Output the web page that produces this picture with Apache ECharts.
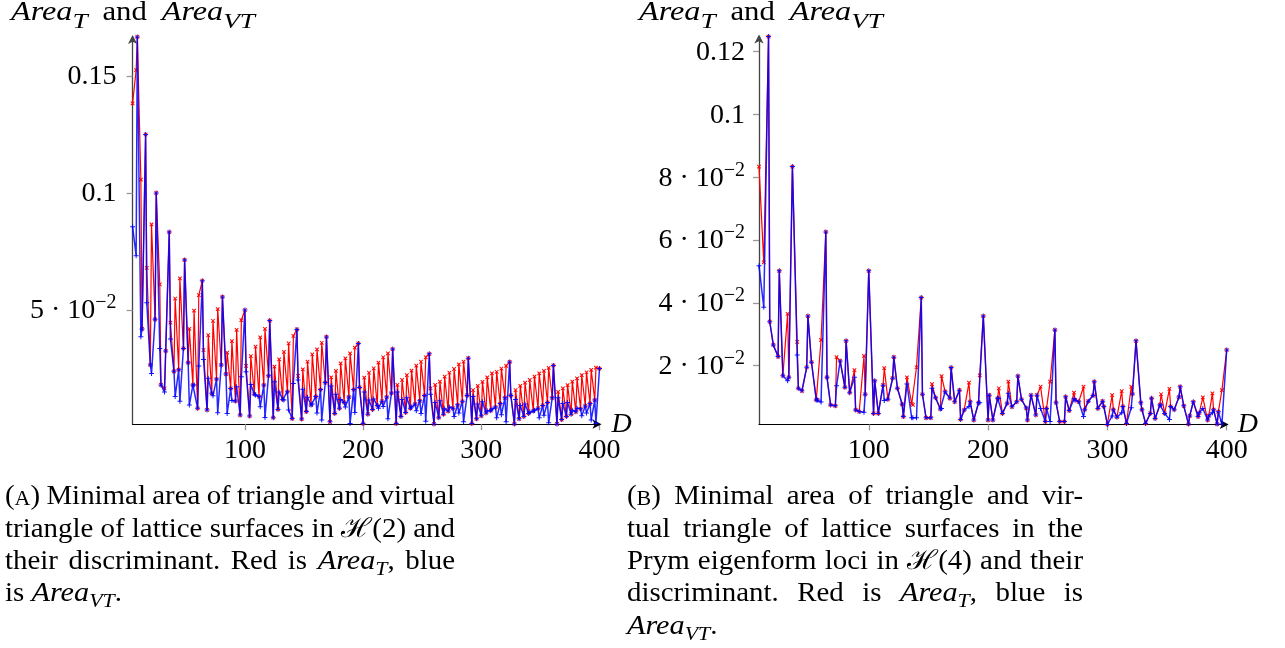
<!DOCTYPE html>
<html><head><meta charset="utf-8">
<script src="https://cdn.jsdelivr.net/npm/echarts@6/dist/echarts.min.js"></script>
<style>html,body{margin:0;padding:0;background:#fff}#c{width:1285px;height:648px}</style>
</head><body><div id="c"></div>
<script>
// ---------- Panel (A): H(2) ----------
const dA = [
 5, 8, 9,
 12, 13, 16,
 17, 20, 21, 24, 25,
 28, 29, 32, 33, 36,
 37, 40, 41, 44, 45, 48, 49,
 52, 53, 56, 57, 60, 61, 64,
 65, 68, 69, 72, 73, 76, 77, 80, 81,
 84, 85, 88, 89, 92, 93, 96, 97, 100,
 101, 104, 105, 108, 109, 112, 113, 116, 117, 120, 121,
 124, 125, 128, 129, 132, 133, 136, 137, 140, 141, 144,
 145, 148, 149, 152, 153, 156, 157, 160, 161, 164, 165, 168, 169,
 172, 173, 176, 177, 180, 181, 184, 185, 188, 189, 192, 193, 196,
 197, 200, 201, 204, 205, 208, 209, 212, 213, 216, 217, 220, 221, 224, 225,
 228, 229, 232, 233, 236, 237, 240, 241, 244, 245, 248, 249, 252, 253, 256,
 257, 260, 261, 264, 265, 268, 269, 272, 273, 276, 277, 280, 281, 284, 285, 288, 289,
 292, 293, 296, 297, 300, 301, 304, 305, 308, 309, 312, 313, 316, 317, 320, 321, 324,
 325, 328, 329, 332, 333, 336, 337, 340, 341, 344, 345, 348, 349, 352, 353, 356, 357, 360, 361,
 364, 365, 368, 369, 372, 373, 376, 377, 380, 381, 384, 385, 388, 389, 392, 393, 396, 397, 400
];
const areaTA = [
 .1383, .1525, .1667,
 .1057, .0419, .1250,
 .0680, .0265, .0866, .0460, .1000,
 .0609, .0180, .0165, .0325, .0833,
 .0446, .0238, .0549, .0245, .0635, .0336, .0714,
 .0275, .0419, .0179, .0497, .0080, .0564, .0625,
 .0329, .0073, .0393, .0144, .0454, .0205, .0504, .0265, .0556,
 .0226, .0318, .0165, .0367, .0111, .0415, .0051, .0457, .0500,
 .0261, .0047, .0303, .0140, .0343, .0130, .0383, .0179, .0419, .0219, .0455,
 .0040, .0258, .0075, .0289, .0118, .0321, .0151, .0357, .0036, .0389, .0417,
 .0218, .0034, .0246, .0066, .0279, .0094, .0310, .0130, .0332, .0160, .0360, .0190, .0385,
 .0022, .0212, .0058, .0240, .0080, .0272, .0105, .0293, .0128, .0315, .0160, .0339, .0357,
 .0169, .0015, .0211, .0055, .0232, .0075, .0251, .0092, .0275, .0110, .0298, .0128, .0315, .0145, .0333,
 .0015, .0180, .0045, .0201, .0062, .0222, .0080, .0241, .0098, .0262, .0112, .0279, .0135, .0298, .0313,
 .0165, .0013, .0180, .0040, .0194, .0055, .0215, .0068, .0232, .0080, .0248, .0095, .0268, .0110, .0279, .0135, .0294,
 .0015, .0158, .0035, .0176, .0048, .0193, .0060, .0212, .0070, .0229, .0085, .0236, .0100, .0250, .0125, .0261, .0278,
 .0135, .0013, .0158, .0035, .0176, .0045, .0190, .0058, .0201, .0068, .0215, .0080, .0229, .0092, .0240, .0105, .0253, .0125, .0263,
 .0013, .0150, .0032, .0165, .0045, .0179, .0055, .0194, .0065, .0208, .0078, .0222, .0090, .0234, .0100, .0244, .0115, .0254, .0250
];
const areaVTA = [
 .0856, .0732, .1667,
 .0386, .0419, .1250,
 .0531, .0265, .0229, .0460, .1000,
 .0336, .0180, .0150, .0325, .0833,
 .0376, .0238, .0130, .0245, .0110, .0336, .0714,
 .0275, .0094, .0179, .0179, .0080, .0261, .0625,
 .0289, .0073, .0208, .0144, .0134, .0205, .0061, .0265, .0556,
 .0226, .0058, .0165, .0113, .0111, .0172, .0051, .0215, .0500,
 .0236, .0047, .0182, .0140, .0137, .0130, .0087, .0179, .0041, .0219, .0455,
 .0040, .0193, .0075, .0150, .0118, .0115, .0151, .0073, .0036, .0186, .0417,
 .0201, .0034, .0161, .0066, .0127, .0094, .0098, .0130, .0060, .0160, .0030, .0190, .0385,
 .0022, .0175, .0058, .0140, .0080, .0118, .0105, .0085, .0128, .0015, .0160, .0062, .0357,
 .0169, .0015, .0150, .0055, .0115, .0075, .0120, .0092, .0080, .0110, .0088, .0128, .0035, .0145, .0333,
 .0015, .0150, .0045, .0118, .0062, .0125, .0080, .0085, .0098, .0070, .0112, .0058, .0135, .0025, .0313,
 .0140, .0013, .0105, .0040, .0112, .0055, .0078, .0068, .0085, .0080, .0045, .0095, .0060, .0110, .0022, .0135, .0294,
 .0015, .0130, .0035, .0098, .0048, .0108, .0060, .0070, .0070, .0078, .0085, .0040, .0100, .0052, .0125, .0022, .0278,
 .0135, .0013, .0118, .0035, .0092, .0045, .0098, .0058, .0065, .0068, .0072, .0080, .0040, .0092, .0050, .0105, .0018, .0125, .0263,
 .0013, .0125, .0032, .0100, .0045, .0105, .0055, .0072, .0065, .0080, .0078, .0048, .0090, .0060, .0100, .0030, .0115, .0015, .0250
];

// ---------- Panel (B): Prym eigenform loci in H(4) ----------
const dB = [
 8, 12, 16, 17, 20, 24, 25, 28, 32, 33, 36,
 40, 41, 44, 48, 49, 52, 56, 57, 60, 64,
 65, 68, 72, 73, 76, 80, 81, 84, 88, 89, 92, 96, 97, 100,
 104, 105, 108, 112, 113, 116, 120, 121, 124, 128, 129, 132, 136, 137, 140, 144,
 145, 148, 152, 153, 156, 160, 161, 164, 168, 169,
 172, 176, 177, 180, 184, 185, 188, 192, 193, 196,
 200, 201, 204, 208, 209, 212, 216, 217, 220, 224, 225,
 228, 232, 233, 236, 240, 241, 244, 248, 249, 252, 256,
 257, 260, 264, 265, 268, 272, 273, 276, 280, 281, 284, 288, 289,
 292, 296, 297, 300, 304, 305, 308, 312, 313, 316, 320, 321, 324,
 328, 329, 332, 336, 337, 340, 344, 345, 348, 352, 353, 356, 360, 361,
 364, 368, 369, 372, 376, 377, 380, 384, 385, 388, 389, 392, 393, 396, 400
];
const areaTB = [
 .0834, .0529, .1248, .0340, .0266, .0229, .0502, .0168, .0365, .0163, .0834,
 .0276, .0128, .0120, .0195, .0358, .0211, .0091, .0091, .0282, .0626,
 .0163, .0075, .0072, .0227, .0215, .0131, .0279, .0114, .0186, .0059, .0054, .0231, .0109, .0502,
 .0048, .0152, .0048, .0138, .0192, .0093, .0160, .0227, .0128, .0077, .0038, .0163, .0078, .0075, .0195, .0417,
 .0109, .0034, .0034, .0141, .0098, .0062, .0167, .0117, .0096, .0194,
 .0085, .0122, .0029, .0059, .0146, .0085, .0027, .0082, .0169, .0358,
 .0027, .0106, .0027, .0096, .0128, .0048, .0080, .0149, .0069, .0085, .0167,
 .0093, .0065, .0027, .0106, .0043, .0106, .0133, .0022, .0064, .0149, .0314,
 .0082, .0022, .0022, .0101, .0057, .0114, .0090, .0085, .0133, .0060, .0087, .0105, .0149,
 .0064, .0087, .0070, .0013, .0106, .0060, .0036, .0119, .0070, .0016, .0133, .0110, .0279,
 .0082, .0060, .0016, .0048, .0096, .0032, .0075, .0109, .0048, .0126, .0070, .0060, .0100, .0133,
 .0072, .0014, .0040, .0085, .0038, .0050, .0099, .0027, .0040, .0112, .0060, .0014, .0053, .0122, .0250
];
const areaVTB = [
 .0518, .0386, .1248, .0340, .0266, .0229, .0502, .0168, .0152, .0163, .0834,
 .0234, .0128, .0120, .0195, .0358, .0211, .0091, .0091, .0084, .0626,
 .0163, .0075, .0072, .0136, .0215, .0131, .0279, .0114, .0163, .0059, .0054, .0052, .0109, .0502,
 .0048, .0152, .0048, .0138, .0089, .0093, .0160, .0227, .0128, .0077, .0038, .0142, .0034, .0034, .0034, .0417,
 .0109, .0034, .0034, .0128, .0098, .0062, .0064, .0117, .0096, .0194,
 .0085, .0122, .0029, .0059, .0070, .0085, .0027, .0082, .0082, .0358,
 .0027, .0106, .0027, .0096, .0096, .0048, .0080, .0112, .0069, .0085, .0167,
 .0093, .0065, .0027, .0106, .0043, .0106, .0064, .0022, .0064, .0022, .0314,
 .0082, .0022, .0022, .0101, .0057, .0095, .0090, .0085, .0038, .0060, .0087, .0105, .0149,
 .0064, .0087, .0070, .0013, .0040, .0060, .0036, .0050, .0070, .0016, .0066, .0110, .0279,
 .0082, .0060, .0016, .0048, .0096, .0032, .0075, .0075, .0048, .0029, .0070, .0060, .0100, .0133,
 .0072, .0014, .0040, .0085, .0038, .0050, .0064, .0027, .0040, .0050, .0060, .0014, .0053, .0014, .0250
];

// ---------- Ticks ----------
const xTicks = [100, 200, 300, 400];
const xTickLabels = ['100', '200', '300', '400'];
const yTicksA = [0.05, 0.1, 0.15];
const yTickTextA = ['5 · 10', '0.1', '0.15'];
const yTickExpA = ['\u22122', '', ''];
const yTicksB = [0.02, 0.04, 0.06, 0.08, 0.1, 0.12];
const yTickTextB = ['2 · 10', '4 · 10', '6 · 10', '8 · 10', '0.1', '0.12'];
const yTickExpB = ['\u22122', '\u22122', '\u22122', '\u22122', '', ''];

// ---------- Text ----------
const titleText = '{it:Area}{sub:T} and {it:Area}{sub:VT}';
const captionA = [
 '({sc:A}) Minimal area of triangle and virtual',
 'triangle of lattice surfaces in \u210B(2) and',
 'their discriminant. Red is {it:Area}{sub:T}, blue',
 'is {it:Area}{sub:VT}.'
];
const captionB = [
 '({sc:B}) Minimal area of triangle and vir-',
 'tual triangle of lattice surfaces in the',
 'Prym eigenform loci in \u210B(4) and their',
 'discriminant. Red is {it:Area}{sub:T}, blue is',
 '{it:Area}{sub:VT}.'
];

const FF = '"Liberation Serif","DejaVu Serif",serif';
const capFonts = {
  rm: {size: 27, style: 'normal', dy: 0, sx: 1.07},
  it: {size: 27, style: 'italic', dy: 0, sx: 1.12},
  sub: {size: 19, style: 'italic', dy: 8, sx: 1.15},
  sc: {size: 20, style: 'normal', dy: 2.4, sx: 1.1}
};
const titleFonts = {
  rm: {size: 28, style: 'normal', dy: 0, sx: 1.1},
  it: {size: 28, style: 'italic', dy: 0, sx: 1.15},
  sub: {size: 21, style: 'italic', dy: 9, sx: 1.3},
  sc: {size: 20, style: 'normal', dy: 2.4, sx: 1}
};
const mctx = document.createElement('canvas').getContext('2d');
function fontStr(F, k) { const f = F[k]; return f.style + ' ' + f.size + 'px ' + FF; }
function measure(F, t, k) { mctx.font = fontStr(F, k); return mctx.measureText(t).width * F[k].sx; }
function parseWord(w) {
  const segs = []; const re = /\{(\w+):([^}]*)\}|([^{]+)/g; let m;
  while ((m = re.exec(w))) { if (m[1]) segs.push([m[2], m[1]]); else segs.push([m[3], 'rm']); }
  return segs;
}
function layoutLine(F, str, x0, y, width, justify, out) {
  const words = str.split(/ +/).map(parseWord);
  const ww = words.map(s => s.reduce((a, [t, k]) => a + measure(F, t, k), 0));
  let gap = measure(F, ' ', 'rm');
  if (justify && words.length > 1) gap = (width - ww.reduce((a, b) => a + b, 0)) / (words.length - 1);
  let x = x0;
  words.forEach(segs => {
    segs.forEach(([t, k]) => {
      out.push({type: 'text', x: x, y: y + F[k].dy, scaleX: F[k].sx, silent: true,
        style: {text: t, font: fontStr(F, k), fill: '#000', textAlign: 'left', textVerticalAlign: 'middle', align: 'left', verticalAlign: 'middle'}});
      x += measure(F, t, k);
    });
    x += gap;
  });
}
const graphics = [];
layoutLine(titleFonts, titleText, 11, 13, 244, true, graphics);
layoutLine(titleFonts, titleText, 639, 13, 244, true, graphics);
const capY = [497, 530, 562, 594, 627];
captionA.forEach((l, i) => layoutLine(capFonts, l, 5, capY[i], 450, i < captionA.length - 1, graphics));
captionB.forEach((l, i) => layoutLine(capFonts, l, 627, capY[i], 456, i < captionB.length - 1, graphics));

function yFmt(ticks, texts, exps) {
  return v => {
    const i = ticks.findIndex(t => Math.abs(t - v) < 1e-9);
    if (i < 0) return '';
    return exps[i] ? '{m|' + texts[i] + '}{s|' + exps[i] + '}' : '{m|' + texts[i] + '}';
  };
}
function xFmt(v) { const i = xTicks.findIndex(t => Math.abs(t - v) < 1e-9); return i < 0 ? '' : xTickLabels[i]; }
const richY = {
  m: {fontSize: 28, fontFamily: FF, color: '#000', verticalAlign: 'bottom', lineHeight: 30},
  s: {fontSize: 20, fontFamily: FF, color: '#000', verticalAlign: 'bottom', lineHeight: 20, padding: [0, 0, 12, 0]}
};
function xAxisCfg(gi, min, gap) {
  return {
    type: 'value', gridIndex: gi, min: min, max: 400,
    splitLine: {show: false},
    axisLine: {show: true, onZero: false, lineStyle: {color: '#000', width: 1.2}, symbol: ['none', 'arrow'], symbolSize: [7, 9], symbolOffset: [0, 2]},
    axisTick: {show: true, customValues: xTicks, length: 6, lineStyle: {color: '#999', width: 1.3}},
    axisLabel: {customValues: xTicks, formatter: xFmt, fontSize: 28, fontFamily: FF, color: '#000', margin: 12},
    name: 'D', nameLocation: 'end', nameGap: gap, nameMoveOverlap: false,
    nameTextStyle: {fontStyle: 'italic', fontSize: 28, fontFamily: FF, color: '#000', verticalAlign: 'middle', align: 'left'}
  };
}
function yAxisCfg(gi, min, max, ticks, texts, exps, margin) {
  return {
    type: 'value', gridIndex: gi, min: min, max: max,
    splitLine: {show: false},
    axisLine: {show: true, onZero: false, lineStyle: {color: '#444', width: 1.3}, symbol: ['none', 'arrow'], symbolSize: [7, 9], symbolOffset: [0, 2]},
    axisTick: {show: true, customValues: ticks, length: 6, lineStyle: {color: '#999', width: 1.3}},
    axisLabel: {customValues: ticks, formatter: yFmt(ticks, texts, exps), margin: margin, rich: richY, fontSize: 28, fontFamily: FF, color: '#000'}
  };
}
const plusPath = 'path://M0,4H10V6H0ZM4,0H6V10H4Z';
function redSeries(xi, d, v) {
  return {type: 'line', xAxisIndex: xi, yAxisIndex: xi, data: d.map((x, i) => [x, v[i]]),
    symbol: plusPath, symbolRotate: 45, symbolSize: 5, showAllSymbol: true,
    lineStyle: {color: '#ff0000', width: 1.2}, itemStyle: {color: '#ff0000'}, z: 2, silent: true, emphasis: {disabled: true}};
}
function blueSeries(xi, d, v) {
  return {type: 'line', xAxisIndex: xi, yAxisIndex: xi, data: d.map((x, i) => [x, v[i]]),
    symbol: plusPath, symbolSize: 5, showAllSymbol: true,
    lineStyle: {color: '#0000ff', width: 1.5, opacity: 0.85}, itemStyle: {color: '#0000ff', opacity: 0.9}, z: 3, silent: true, emphasis: {disabled: true}};
}
const chart = echarts.init(document.getElementById('c'), null, {renderer: 'canvas'});
chart.setOption({
  backgroundColor: '#fff',
  animation: false,
  grid: [
    {left: 132.6, top: 36.9, width: 466.9, height: 387.3, containLabel: false, outerBoundsMode: 'none'},
    {left: 759, top: 36.6, width: 467.7, height: 387.8, containLabel: false, outerBoundsMode: 'none'}
  ],
  xAxis: [xAxisCfg(0, 5, 12), xAxisCfg(1, 8, 11)],
  yAxis: [
    yAxisCfg(0, 0.0012, 0.1667, yTicksA, yTickTextA, yTickExpA, 16),
    yAxisCfg(1, 0.0013, 0.1248, yTicksB, yTickTextB, yTickExpB, 14)
  ],
  series: [
    redSeries(0, dA, areaTA), blueSeries(0, dA, areaVTA),
    redSeries(1, dB, areaTB), blueSeries(1, dB, areaVTB)
  ],
  graphic: graphics
});
</script></body></html>
